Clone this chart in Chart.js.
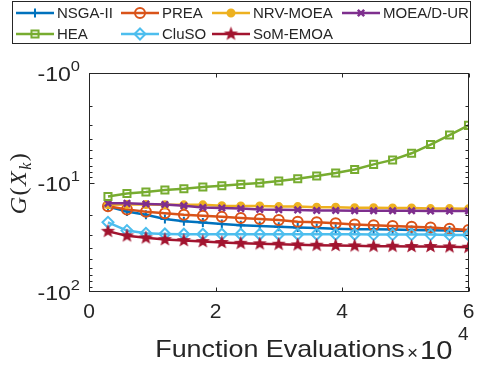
<!DOCTYPE html>
<html>
<head>
<meta charset="utf-8">
<script src="https://cdn.jsdelivr.net/npm/chart.js@4/dist/chart.umd.min.js"></script>
<style>
  html, body { margin: 0; padding: 0; background: #fff; }
  #wrap { width: 478px; height: 365px; }
</style>
</head>
<body>
<div id="wrap"><canvas id="chart" width="478" height="365"></canvas></div>
<script>
// function evaluations (x axis)
const evals = [3000, 6000, 9000, 12000, 15000, 18000, 21000, 24000, 27000, 30000,
  33000, 36000, 39000, 42000, 45000, 48000, 51000, 54000, 57000, 60000];

// G(X_k) values, all negative
const nsga2 = [-16.6, -18.4, -19.7, -21.5, -22.6, -23.2, -23.9, -24.6, -25.0, -25.3,
  -25.7, -26.0, -26.4, -26.7, -26.7, -26.9, -27.1, -27.3, -27.5, -27.7];
const prea = [-16.5, -17.6, -18.5, -19.1, -19.7, -20.1, -20.6, -21.1, -21.5, -22.0,
  -22.8, -23.1, -23.6, -24.2, -24.6, -24.9, -25.3, -25.8, -26.5, -27.1];
const nrvMoea = [-16.0, -15.9, -15.9, -16.0, -16.0, -16.0, -16.3, -16.4, -16.4, -16.6,
  -16.6, -16.8, -16.8, -17.0, -17.0, -17.1, -17.1, -17.3, -17.3, -17.4];
const moeadUr = [-15.5, -15.5, -15.7, -15.9, -16.3, -16.9, -17.1, -17.3, -17.6, -17.7,
  -17.8, -18.0, -18.0, -18.1, -18.1, -18.1, -18.1, -18.2, -18.2, -18.2];
const hea = [-13.4, -12.6, -12.2, -11.7, -11.4, -11.0, -10.7, -10.4, -10.1, -9.7,
  -9.25, -8.73, -8.2, -7.6, -6.83, -6.22, -5.41, -4.5, -3.69, -3.01];
const cluso = [-23.1, -27.5, -29.1, -29.5, -29.7, -29.7, -29.7, -29.7, -29.7, -29.7,
  -29.7, -29.7, -29.7, -29.7, -29.9, -29.9, -29.9, -29.9, -30.1, -30.1];
const somEmoa = [-27.9, -30.7, -32.0, -33.2, -33.9, -34.6, -35.3, -35.9, -36.3, -36.6,
  -37.1, -37.4, -37.6, -37.9, -38.2, -38.2, -38.4, -38.4, -38.7, -39.0];

const yTicks = [1, 10, 100];
const yTickLabels = ["-10", "-10", "-10"];
const yTickExps = ["0", "1", "2"];

const AXIS = "#262626";
const FONT = "'Liberation Sans', Arial, Helvetica, sans-serif";

// filled pentagram marker
function makeStar(color, r) {
  const c = document.createElement("canvas");
  c.width = c.height = Math.ceil(r * 2 + 2);
  const g = c.getContext("2d");
  const cx = c.width / 2, cy = c.height / 2;
  g.beginPath();
  for (let i = 0; i < 10; i++) {
    const rad = i % 2 === 0 ? r : r * 0.42;
    const a = -Math.PI / 2 + i * Math.PI / 5;
    const px = cx + rad * Math.cos(a), py = cy + rad * Math.sin(a);
    if (i === 0) g.moveTo(px, py); else g.lineTo(px, py);
  }
  g.closePath();
  g.fillStyle = color;
  g.fill();
  return c;
}

function series(label, values, color, style, radius, fill, bw) {
  return {
    label,
    data: evals.map((x, i) => ({ x, y: -values[i] })),
    borderColor: color,
    backgroundColor: color,
    borderWidth: 2.5,
    pointStyle: style,
    pointRadius: radius,
    pointHoverRadius: radius,
    pointBorderColor: color,
    pointBackgroundColor: fill ? color : "rgba(0,0,0,0)",
    pointBorderWidth: bw || 2,
    tension: 0
  };
}

const datasets = [
  series("NSGA-II", nsga2, "#0072BD", "cross", 4.5, false),
  series("PREA", prea, "#D95319", "circle", 5, false),
  series("NRV-MOEA", nrvMoea, "#EDB120", "circle", 3.5, true),
  series("MOEA/D-UR", moeadUr, "#7E2F8E", "crossRot", 4.5, false, 2.5),
  series("HEA", hea, "#77AC30", "rect", 5, false),
  series("CluSO", cluso, "#4DBEEE", "rectRot", 5.5, false),
  series("SoM-EMOA", somEmoa, "#A2142F", makeStar("#A2142F", 7.5), 7.5, true)
];
// later series on top, like the original
datasets.forEach((d, i) => { d.order = datasets.length - i; });

// legend laid out as a 4-column grid with a box around it
const legendGrid = {
  id: "legendGrid",
  afterDraw(chart) {
    const ctx = chart.ctx;
    const colX = [16, 121, 212, 342];
    const rowY = [13, 34];
    ctx.save();
    ctx.strokeStyle = AXIS;
    ctx.lineWidth = 1;
    ctx.strokeRect(12.5, 1.5, 458, 42);
    ctx.font = "15px " + FONT;
    ctx.textBaseline = "middle";
    ctx.textAlign = "left";
    datasets.forEach((d, i) => {
      const x0 = colX[i % 4], y0 = rowY[Math.floor(i / 4)];
      ctx.strokeStyle = d.borderColor;
      ctx.lineWidth = d.borderWidth;
      ctx.beginPath();
      ctx.moveTo(x0, y0);
      ctx.lineTo(x0 + 38, y0);
      ctx.stroke();
      ctx.fillStyle = d.pointBackgroundColor;
      ctx.strokeStyle = d.pointBorderColor;
      ctx.lineWidth = d.pointBorderWidth;
      Chart.helpers.drawPoint(ctx, {
        pointStyle: d.pointStyle,
        radius: d.pointRadius,
        borderWidth: d.pointBorderWidth,
        rotation: 0
      }, x0 + 19, y0);
      ctx.fillStyle = AXIS;
      ctx.fillText(d.label, x0 + 41, y0 + 1);
    });
    ctx.restore();
  }
};

// matlab style box, inner ticks, log tick labels and axis titles
const axesBox = {
  id: "axesBox",
  afterDraw(chart) {
    const ctx = chart.ctx;
    const a = chart.chartArea;
    const xs = chart.scales.x, ys = chart.scales.y;
    const L = Math.round(a.left) + 0.5, R = Math.round(a.right) - 0.5;
    const T = Math.round(a.top) + 0.5, B = Math.round(a.bottom) - 0.5;
    ctx.save();
    ctx.strokeStyle = AXIS;
    ctx.lineWidth = 1;
    ctx.strokeRect(L, T, R - L, B - T);
    ctx.beginPath();
    [0, 20000, 40000, 60000].forEach(v => {
      const px = Math.round(xs.getPixelForValue(v)) + 0.5;
      ctx.moveTo(px, B); ctx.lineTo(px, B - 4);
      ctx.moveTo(px, T); ctx.lineTo(px, T + 4);
    });
    for (let dec = 1; dec < 100; dec *= 10) {
      for (let k = 1; k < 10; k++) {
        const v = dec * k;
        const py = Math.round(ys.getPixelForValue(v)) + 0.5;
        const len = k === 1 ? 5 : 3;
        ctx.moveTo(L, py); ctx.lineTo(L + len, py);
        ctx.moveTo(R, py); ctx.lineTo(R - len, py);
      }
    }
    ctx.stroke();

    // y tick labels: -10^n
    ctx.fillStyle = AXIS;
    ctx.textBaseline = "alphabetic";
    ctx.textAlign = "right";
    yTicks.forEach((v, i) => {
      const py = ys.getPixelForValue(v);
      ctx.save();
      ctx.translate(80, 0);
      ctx.scale(1.1, 1);
      ctx.font = "15px " + FONT;
      const supW = ctx.measureText(yTickExps[i]).width;
      ctx.fillText(yTickExps[i], 0, py - 2);
      ctx.font = "21px " + FONT;
      ctx.fillText(yTickLabels[i], -supW, py + 8);
      ctx.restore();
    });

    // x multiplier
    ctx.textAlign = "left";
    ctx.font = "19px " + FONT;
    ctx.fillText("\u00d7", 407, 359);
    ctx.save();
    ctx.translate(420, 359);
    ctx.scale(1.12, 1);
    ctx.font = "26px " + FONT;
    ctx.fillText("10", 0, 0);
    ctx.restore();
    ctx.font = "19px " + FONT;
    ctx.fillText("4", 458, 340);

    // x title
    ctx.save();
    ctx.translate(280, 357);
    ctx.scale(1.12, 1);
    ctx.textAlign = "center";
    ctx.font = "24px " + FONT;
    ctx.fillText("Function Evaluations", 0, 0);
    ctx.restore();

    // y title G(X_k), rotated
    ctx.translate(26, 183);
    ctx.rotate(-Math.PI / 2);
    const serif = "'Liberation Serif', 'DejaVu Serif', serif";
    const parts = [
      ["italic 24px " + serif, "G", 0],
      ["24px " + serif, "(", 0],
      ["italic 24px " + serif, "X", 0],
      ["italic 16px " + serif, "k", 5],
      ["24px " + serif, ")", 0]
    ];
    let w = 0;
    parts.forEach(p => { ctx.font = p[0]; w += ctx.measureText(p[1]).width + 1.5; });
    let x = -w / 2;
    ctx.textAlign = "left";
    parts.forEach(p => {
      ctx.font = p[0];
      ctx.fillText(p[1], x, p[2]);
      x += ctx.measureText(p[1]).width + 1.5;
    });
    ctx.restore();
  }
};

new Chart(document.getElementById("chart"), {
  type: "line",
  data: { datasets },
  options: {
    responsive: false,
    animation: false,
    layout: { padding: { top: 73, right: 7, left: 0, bottom: 0 } },
    plugins: {
      legend: { display: false },
      tooltip: { enabled: false }
    },
    scales: {
      x: {
        type: "linear",
        min: 0,
        max: 60000,
        grid: { display: false },
        border: { display: false },
        ticks: {
          stepSize: 20000,
          color: AXIS,
          font: { family: FONT, size: 21 },
          padding: 0,
          maxRotation: 0,
          callback: v => String(v / 10000)
        },
        afterFit: s => {
          s.height = 73;
          s.paddingLeft = 0;
          s.paddingRight = 0;
        }
      },
      y: {
        type: "logarithmic",
        min: 1,
        max: 100,
        reverse: true,
        grid: { display: false },
        border: { display: false },
        ticks: { display: false },
        afterFit: s => {
          s.width = 89;
          s.paddingTop = 0;
          s.paddingBottom = 0;
        }
      }
    }
  },
  plugins: [legendGrid, axesBox]
});
</script>
</body>
</html>
